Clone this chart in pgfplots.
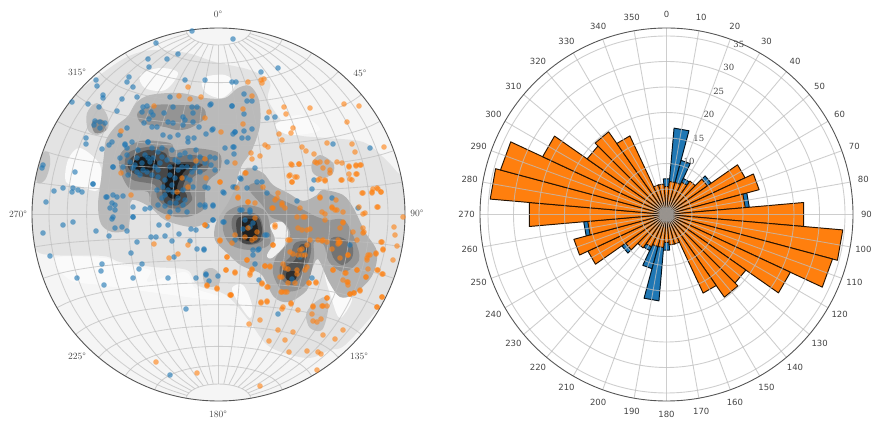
\documentclass[border=0pt]{standalone}
\usepackage{fontspec}
\newfontfamily\tsans{DejaVu Sans}
\newfontfamily\tserif{DejaVu Serif}
\usepackage{pgfplots}
\usepgfplotslibrary{polar}
\pgfplotsset{compat=1.18}
\definecolor{tabblue}{HTML}{1F77B4}
\definecolor{taborange}{HTML}{FF7F0E}
\definecolor{rim}{HTML}{555555}
\definecolor{lab}{HTML}{444444}
\definecolor{gridc}{HTML}{BEBEBE}
\newcommand\cont[2]{\addplot[fill=#1,draw=none,smooth cycle,tension=0.55] coordinates {#2};}
\newcommand\rosebar[3]{%
  \pgfmathsetmacro\aL{90-#2-5}\pgfmathsetmacro\aR{90-#2+5}%
  \edef\temp{\noexpand\addplot[fill=#1,draw=black!85!#1,line width=0.95pt,line join=round]
    coordinates {(\aL,0)(\aL,#3)(\aR,#3)(\aR,0)} --cycle;}\temp}
\begin{document}
\begin{tikzpicture}
\path[use as bounding box] (0,0) rectangle (886pt,425pt);
% ---------- stereonet ----------
\begin{axis}[at={(32pt,24pt)},anchor=south west,scale only axis,width=373pt,height=373pt,
  xmin=32,xmax=405,ymin=28,ymax=401,y dir=reverse,hide axis,clip=false]
\fill[black!4] (axis cs:218.5,214.5) circle [radius=186.5];
% level 2
\cont{black!11}{(28,215)(28,170)(45,130)(75,95)(100,75)(127,57)(153,50)(187,53)(215,62)(250,70)(270,82)(268,100)(285,125)(297,135)(327,138)(363,142)(383,157)(397,172)(410,190)(410,280)(392,290)(377,310)(345,345)(330,350)(307,358)(270,347)(250,322)(232,300)(220,292)(197,285)(187,270)(153,267)(120,262)(103,256)(50,255)(35,248)}
% pale patches
\cont{black!2}{(140,75)(160,68)(178,73)(165,90)(145,88)}
\cont{black!2}{(203,78)(225,75)(235,85)(222,98)(205,92)}
\cont{black!2}{(68,160)(80,148)(100,165)(98,190)(82,187)(66,182)}
\cont{black!2}{(275,125)(300,115)(320,130)(290,135)}
\cont{black!2}{(55,258)(105,258)(120,265)(150,270)(148,282)(185,272)(195,288)(218,296)(212,300)(150,292)(100,285)(70,280)}
\cont{black!2}{(232,288)(243,285)(252,305)(250,318)(238,302)}
\cont{black!2}{(325,272)(345,290)(352,300)(340,318)(332,300)}
% level 3
\cont{black!27}{(106,140)(116,126)(128,116)(136,103)(150,95)(180,93)(205,98)(225,98)(238,88)(250,86)(259,100)(260,125)(252,150)(242,165)(237,180)(234,200)(224,217)(205,224)(190,227)(165,220)(150,207)(132,200)(130,217)(127,230)(112,232)(101,224)(98,205)(101,180)(104,155)}
\cont{black!30}{(215,240)(216,223)(228,203)(238,183)(247,168)(263,173)(273,185)(288,193)(303,201)(317,195)(323,190)(343,195)(354,209)(365,232)(377,252)(372,276)(354,294)(340,297)(329,282)(320,262)(316,260)(310,275)(307,290)(289,302)(274,297)(262,275)(249,269)(239,264)(226,252)}
\cont{black!6}{(270,225)(282,222)(288,232)(285,245)(272,258)(267,255)(275,240)}
\cont{black!27}{(312,163)(320,155)(333,163)(333,173)(323,178)(313,173)}
\cont{black!24}{(312,305)(325,297)(328,310)(322,330)(310,328)(306,315)}
\cont{black!24}{(203,272)(212,268)(220,275)(218,285)(206,286)}
\cont{black!24}{(36,158)(48,152)(50,165)(45,180)(37,182)}
\cont{black!24}{(87,113)(97,103)(107,115)(108,128)(98,135)(88,130)}
% level 4
\cont{black!42}{(138,112)(155,105)(180,105)(202,107)(205,118)(190,128)(177,130)(165,127)(150,125)(140,122)}
\cont{black!42}{(121,153)(140,141)(170,143)(175,150)(193,148)(219,153)(220,170)(209,180)(205,193)(204,209)(187,217)(167,215)(151,205)(148,192)(130,189)(120,170)}
\cont{black!42}{(226,213)(243,205)(264,210)(270,227)(269,245)(250,250)(231,245)(223,230)}
\cont{black!42}{(248,188)(258,183)(272,195)(300,208)(315,216)(328,220)(344,220)(355,240)(359,260)(344,272)(329,262)(324,245)(314,242)(314,257)(309,279)(298,290)(282,290)(273,273)(276,257)(288,243)(290,232)(283,222)(271,217)(262,205)}
\cont{black!45}{(92,122)(103,120)(106,130)(95,133)}
% level 5
\cont{black!55}{(128,153)(147,147)(167,148)(170,157)(190,155)(208,158)(207,170)(193,177)(190,190)(192,200)(182,208)(167,207)(157,197)(155,185)(133,180)(125,168)}
\cont{black!55}{(233,217)(243,212)(258,215)(263,227)(263,240)(250,245)(238,240)(232,228)}
\cont{black!55}{(330,240)(340,237)(352,245)(352,258)(342,265)(333,257)}
\cont{black!55}{(295,243)(310,242)(310,257)(303,273)(293,285)(282,280)(280,267)(290,257)}
% level 6
\cont{black!72}{(132,157)(148,150)(165,153)(170,162)(190,162)(203,165)(190,172)(183,187)(187,197)(178,205)(165,203)(162,190)(160,180)(137,175)(128,167)}
\cont{black!72}{(238,218)(257,217)(262,230)(258,242)(243,243)(237,232)}
\cont{black!68}{(300,245)(308,247)(305,263)(298,275)(290,280)(283,275)(285,267)(295,260)}
% level 7
\cont{black!90}{(133,162)(148,155)(157,162)(153,170)(137,170)}
\cont{black!90}{(170,165)(190,165)(183,173)(177,187)(180,197)(170,198)(165,187)(168,173)}
\cont{black!88}{(242,220)(255,220)(258,232)(255,240)(245,240)(242,230)}
\cont{black!82}{(287,272)(297,272)(295,280)(287,280)}
% outside of the net
\fill[white,even odd rule] (axis cs:15,8) rectangle (axis cs:425,421) (axis cs:218.5,214.5) circle [radius=186.5];
% graticule
\pgfplotsinvokeforeach{-80,-70,...,80}{
 \draw[gridc,line width=0.85pt,opacity=.7] plot[domain=-80:80,samples=25,smooth,variable=\p]
  (axis cs:{218.5+186.5*sqrt(1/(1+cos(\p)*cos(#1)))*cos(\p)*sin(#1)},{214.5-186.5*sqrt(1/(1+cos(\p)*cos(#1)))*sin(\p)});
 \draw[gridc,line width=0.85pt,opacity=.7] plot[domain=-90:90,samples=25,smooth,variable=\l]
  (axis cs:{218.5+186.5*sqrt(1/(1+cos(#1)*cos(\l)))*cos(#1)*sin(\l)},{214.5-186.5*sqrt(1/(1+cos(#1)*cos(\l)))*sin(#1)});
}
% blue poles
\addplot[only marks,mark=*,mark size=2.8pt,tabblue,mark options={solid,fill=tabblue,line width=0pt,draw opacity=0,fill opacity=.62}] coordinates {
(192,31)(156,43)(178,54)(167,59)(148,59)(149,67)(129,77)(127,82)(96,80)(97,86)(133,87)(185,80)(205,80)(103,95)(103,98)(137,97)(122,99)(72,102)(88,104)(99,107)(117,111)(170,97)(211,104)
(143,107)(147,106)(142,112)(151,112)(153,115)(164,113)(173,107)(192,107)(197,107)(149,119)(183,117)(185,120)(193,113)(95,121)(100,122)(105,123)(94,125)(100,128)
(144,123)(152,127)(157,127)(168,122)(173,123)(183,125)(193,122)(199,127)(213,129)(127,128)(120,135)(86,138)(86,144)(163,135)(170,137)(178,135)(188,138)(194,138)(206,134)(112,142)(109,145)(125,144)(127,148)(148,142)(102,149)(225,148)(43,165)(42,168)
(132,142)(125,145)(148,142)(188,142)(233,147)(152,148)(145,155)(162,148)(137,158)(130,162)(123,167)(153,158)(148,158)(162,157)(167,160)(133,168)(140,175)(128,175)(147,172)(155,167)(170,167)(180,155)(185,153)(178,162)(190,157)(200,157)(210,157)(215,158)(205,163)(195,168)(200,172)(187,167)(178,170)(170,175)(165,180)(158,177)(172,185)(163,187)(173,192)(165,195)(178,198)(183,190)(190,180)(193,187)(170,203)(162,198)(158,205)(178,210)(187,212)(170,212)(205,187)(208,188)(200,205)(205,207)(213,205)(223,192)(235,187)(227,162)
(135,165)(142,163)(150,162)(158,170)(143,170)(137,172)(152,175)(160,163)(175,160)(182,167)(192,172)(175,178)(168,190)(176,203)(165,206)(185,200)(197,163)(138,150)(158,152)(172,150)(196,150)(211,165)(120,158)(127,155)(215,170)(183,205)(157,190)(186,178)
(113,167)(93,184)(107,197)(113,195)(117,197)(123,196)(112,203)(115,205)(110,208)(115,210)(133,207)(145,209)(150,208)(133,217)(113,217)(210,105)(232,106)(212,130)(235,132)
(233,39)(278,68)(261,72)(232,82)(236,82)(244,94)(247,101)(252,101)(232,106)(244,114)(267,118)(275,117)(252,129)(244,131)(235,132)(233,134)(242,138)(248,138)(234,147)(234,154)(333,144)(370,148)(314,180)(241,179)(255,168)(257,182)(262,182)(233,187)(247,188)(267,193)(312,189)(332,198)(297,201)(358,208)(240,210)(250,210)
(43,233)(63,225)(73,222)(96,231)(109,236)(50,256)(112,219)(115,228)(122,227)(127,231)(133,217)(159,225)(168,225)(137,242)(151,237)(156,237)(165,236)(172,241)(179,234)(191,229)(196,230)(190,241)(213,220)(224,222)(131,253)(174,257)(197,249)(204,250)(142,264)(139,269)(102,264)(101,271)(77,278)(133,278)(104,285)(168,278)(196,278)(206,275)(209,281)(218,276)(186,309)(170,375)
(54,191)(63,188)(72,192)(73,188)(78,190)(82,192)(46,202)(75,172)(93,184)(113,167)(106,197)
(253,255)(258,250)(255,264)(259,280)(278,314)(312,278)(292,279)(350,245)(267,235)(243,229)(250,227)
(240,178)(224,193)(213,206)(205,205)(213,220)(223,222)(207,226)(204,249)(250,212)(242,210)(253,223)(245,220)(235,240)(265,235)(253,250)(259,249)(206,274)(300,257)(303,252)
};
% orange poles
\addplot[only marks,mark=*,mark size=2.8pt,taborange,mark options={solid,fill=taborange,line width=0pt,draw opacity=0,fill opacity=.6}] coordinates {
(179,96)(190,99)(201,97)(188,87)(154,106)(205,118)(121,131)(221,132)(220,182)(121,173)(131,195)(196,161)(205,159)(206,178)(182,178)(188,187)(177,192)
(154,244)(169,258)(178,254)(168,217)(188,245)(205,225)(220,241)(227,257)(226,270)(207,285)(217,289)(230,295)(156,362)(197,373)
(260,386)(317,370)(307,351)(318,352)(321,354)(289,352)(269,341)(285,340)(293,332)(278,330)(260,320)(249,324)(261,303)(267,301)(291,304)(282,309)(298,310)(313,306)(323,306)(327,298)(312,314)(313,321)(317,322)(321,319)(323,335)(335,339)(343,330)(377,307)(382,297)(360,290)(350,294)(354,293)(348,282)(343,280)(345,273)(333,270)(309,283)(316,282)(281,292)(285,292)(267,287)(262,284)(273,245)(275,225)(290,240)(252,269)(250,275)(235,273)(247,260)(265,266)(270,267)(231,295)
(393,260)(383,274)(377,270)(366,277)(357,270)(368,255)(376,254)(383,250)(382,242)(395,235)(394,227)(397,246)(364,232)(343,222)(325,214)(305,217)(297,217)(363,214)(403,217)
(340,242)(338,244)(332,249)(348,255)(327,242)(322,241)(367,260)(310,229)(302,230)(307,245)(305,255)(298,255)(302,249)(293,254)(283,264)(288,269)(297,274)(280,277)(305,270)
(248,82)(261,80)(264,79)(262,83)(252,96)(243,109)(284,107)(286,114)(310,108)(344,104)(359,106)(347,122)(269,112)(293,128)(291,133)(279,134)(282,140)(243,124)(265,145)(268,147)(327,143)(352,144)(355,152)(384,147)(302,147)(306,151)(251,153)(260,156)(252,159)(314,154)(235,163)(291,164)(299,164)(315,162)(320,162)(323,168)(330,173)(337,162)(342,163)(349,167)(356,165)(361,165)(349,174)(357,174)(352,180)(341,180)(289,176)(297,177)(292,182)(318,180)(325,181)(246,173)(363,193)(373,189)(378,189)(381,192)(372,192)(377,207)(320,198)(336,200)(359,207)(263,187)(238,198)(248,202)(275,200)(278,193)(272,208)(282,203)(285,208)(332,208)(335,210)(237,188)
(248,228)(257,232)(255,218)(235,235)(245,237)(252,240)(255,238)(220,240)(232,243)(205,225)(245,173)(220,182)(238,197)(248,202)(255,203)(273,208)(277,198)(282,205)(300,208)(303,217)(325,220)(322,212)(320,197)(332,207)(337,210)(343,212)(343,223)(363,228)(363,233)(357,240)(353,232)(340,228)(338,240)(323,240)(318,240)(307,230)(298,228)(310,240)(288,240)(275,227)(273,245)(300,250)(290,252)(302,255)(285,268)(282,277)(297,270)(307,267)(288,283)(295,283)(282,292)(287,292)(268,287)(262,283)(265,266)(270,266)(252,270)(250,273)(247,260)(227,257)(235,272)(226,270)(207,286)(217,288)(231,295)(261,302)(267,302)(283,307)(291,303)(313,307)(327,298)(327,306)(322,306)(309,283)(316,283)(347,282)(348,285)(346,273)(333,270)(357,270)(360,291)(354,293)(350,294)(366,277)(368,269)(378,270)(382,274)(383,249)(376,253)(367,258)(370,255)(381,242)(339,243)(340,258)(348,255)(382,297)(377,307)
(292,165)(299,164)(317,163)(327,162)(290,175)(295,177)(292,182)(320,179)(325,180)(330,170)(342,180)(350,179)(356,174)(356,166)(360,165)(349,166)(362,193)(372,193)(377,188)(381,192)(378,207)(365,213)
};
\draw[rim,line width=0.9pt] (axis cs:218.5,214.5) circle [radius=186.5];
\begin{scope}[font=\fontsize{9.5}{10}\selectfont,text=lab]
\node at (axis cs:218,14) {0°};
\node at (axis cs:77,72) {315°};
\node at (axis cs:360,73) {45°};
\node at (axis cs:18,214) {270°};
\node at (axis cs:417,213) {90°};
\node at (axis cs:77,356) {225°};
\node at (axis cs:359,356) {135°};
\node at (axis cs:218,414) {180°};
\end{scope}
\end{axis}
% ---------- rose diagram ----------
\begin{polaraxis}[at={(666.5pt,210.5pt)},anchor=center,scale only axis,width=373pt,height=373pt,
  xmin=0,xmax=360,ymin=0,ymax=36.57,xtick={0,10,...,350},ytick={5,10,...,35},
  xticklabels={},yticklabels={},major tick length=0pt,grid=both,axis on top,clip=false,
  grid style={gridc,line width=0.9pt,opacity=.75},
  axis line style={rim,line width=0.9pt},y axis line style={draw=none}]
\foreach \a/\v in {0/7,10/17,20/11,30/7.8,40/5,50/10.7,60/8,70/8,80/16.3,90/10,100/8,110/6,120/5,130/4,140/4,150/4,160/5,170/5,
 180/7,190/17,200/11,210/7.8,220/5,230/10.7,240/8,250/8,260/16.3,270/10,280/8,290/6,300/5,310/4,320/4,330/4,340/5,350/5}
 {\rosebar{tabblue}{\a}{\v}}
\foreach \a/\v in {0/5.5,10/6.5,20/6.5,30/7,40/8,50/9.8,60/17,70/18.8,80/15.5,90/27,100/34.7,110/33.7,120/26.8,130/19,140/19.8,150/17,160/6,170/6,
 180/5.5,190/6.5,200/6.5,210/7,220/8,230/9.8,240/17,250/18.8,260/15.5,270/27,280/34.7,290/33.7,300/26.8,310/19,320/19.8,330/17,340/6,350/6}
 {\rosebar{taborange}{\a}{\v}}
\pgfplotsinvokeforeach{0,10,...,350}{
 \node[font=\tsans\fontsize{8.5}{9}\selectfont,text=lab] at (axis cs:{90-#1},39.2) {#1};}
\begin{scope}[font=\tserif\fontsize{8.5}{9}\selectfont,text=lab]
\node at (axis cs:67,11.3) {10};
\node at (axis cs:67,16.2) {15};
\node at (axis cs:67,21.3) {20};
\node at (axis cs:67,26.2) {25};
\node at (axis cs:67,31.3) {30};
\node at (axis cs:67,36.3) {35};
\end{scope}
\end{polaraxis}
\end{tikzpicture}
\end{document}
